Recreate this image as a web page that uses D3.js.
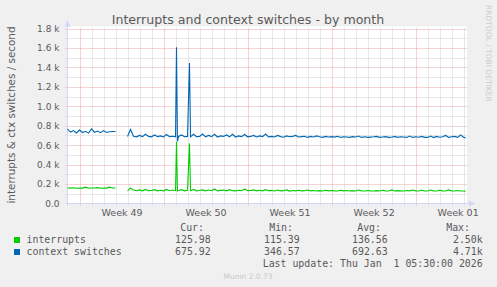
<!DOCTYPE html>
<html><head><meta charset="utf-8">
<script src="https://cdn.jsdelivr.net/npm/d3@7"></script>
<style>
html,body{margin:0;padding:0;background:#f0f0f0;}
svg{display:block;}
</style></head><body>
<svg id="c" width="497" height="287"></svg>
<script>
// ---------- data ----------
const title = "Interrupts and context switches - by month";
const yLabel = "interrupts & ctx switches / second";
const yTickValues = [0, 200, 400, 600, 800, 1000, 1200, 1400, 1600, 1800];
const yTickLabels = ["0.0", "0.2 k", "0.4 k", "0.6 k", "0.8 k", "1.0 k", "1.2 k", "1.4 k", "1.6 k", "1.8 k"];
// days counted from Monday 1 Dec 2025 00:00
const weekCenters = [3.5, 10.5, 17.5, 24.5, 31.5];
const weekLabels = ["Week 49", "Week 50", "Week 51", "Week 52", "Week 01"];
const weekStarts = [0, 7, 14, 21, 28];

const days = [
  -1, -0.75, -0.5, -0.25,
  0, 0.25, 0.5, 0.75,
  1, 1.25, 1.5, 1.75,
  2, 2.25, 2.5, 2.75,
  3,
  3.5,
  4, 4.25, 4.5, 4.75,
  5, 5.25, 5.5, 5.75,
  6, 6.25, 6.5, 6.75,
  7, 7.25, 7.5, 7.75,
  8, 8.08, 8.16, 8.25, 8.5, 8.75,
  9, 9.16, 9.25, 9.5, 9.75,
  10, 10.25, 10.5, 10.75,
  11, 11.25, 11.5, 11.75,
  12, 12.25, 12.5, 12.75,
  13, 13.25, 13.5, 13.75,
  14, 14.25, 14.5, 14.75,
  15, 15.25, 15.5, 15.75,
  16, 16.25, 16.5, 16.75,
  17, 17.25, 17.5, 17.75,
  18, 18.25, 18.5, 18.75,
  19, 19.25, 19.5, 19.75,
  20, 20.25, 20.5, 20.75,
  21, 21.25, 21.5, 21.75,
  22, 22.25, 22.5, 22.75,
  23, 23.25, 23.5, 23.75,
  24, 24.25, 24.5, 24.75,
  25, 25.25, 25.5, 25.75,
  26, 26.25, 26.5, 26.75,
  27, 27.25, 27.5, 27.75,
  28, 28.25, 28.5, 28.75,
  29, 29.25, 29.5, 29.75,
  30, 30.25, 30.5, 30.75,
  31, 31.25, 31.5, 31.75,
  32, 32.17
];

const interrupts = [
  160, 158, 162, 157,
  160, 158, 168, 157,
  160, 159, 163, 157,
  160, 158, 168, 159,
  159,
  null,
  130, 160, 138, 132,
  140, 130, 145, 132,
  134, 142, 130, 136,
  130, 145, 132, 138,
  132, 634, 130, 134, 142, 130,
  135, 617, 132, 145, 130,
  134, 140, 130, 138,
  132, 150, 130, 135,
  138, 130, 142, 132,
  130, 136, 132, 150,
  132, 134, 140, 130,
  136, 130, 142, 132,
  134, 128, 138, 130,
  132, 140, 128, 134,
  130, 136, 130, 132,
  138, 130, 134, 128,
  132, 128, 136, 130,
  134, 130, 128, 136,
  130, 134, 128, 132,
  128, 138, 130, 128,
  134, 130, 128, 132,
  128, 136, 130, 128,
  140, 128, 132, 130,
  128, 134, 130, 138,
  130, 128, 136, 130,
  128, 138, 130, 128,
  136, 130, 128, 140,
  130, 128, 134, 128,
  128, 126
];

const contextSwitches = [
  765, 735, 750, 726,
  755, 730, 742, 724,
  768, 733, 745, 728,
  750, 731, 738, 740,
  740,
  null,
  690, 762, 692, 686,
  700, 688, 712, 690,
  686, 705, 688, 695,
  684, 710, 688, 692,
  685, 1608, 640, 690, 705, 688,
  690, 1444, 686, 712, 688,
  690, 715, 686, 700,
  688, 712, 684, 695,
  690, 705, 686, 712,
  684, 695, 688, 710,
  686, 690, 700, 684,
  695, 688, 715, 686,
  690, 684, 700, 688,
  682, 695, 686, 690,
  700, 684, 688, 692,
  680, 690, 684, 695,
  686, 680, 690, 684,
  688, 683, 692, 680,
  686, 684, 680, 688,
  684, 694, 680, 686,
  680, 683, 686, 690,
  680, 684, 688, 680,
  682, 690, 680, 686,
  684, 680, 694, 680,
  686, 682, 690, 680,
  680, 694, 678, 690,
  682, 686, 700, 680,
  686, 690, 680, 706,
  680, 676
];

const seriesNames = ["interrupts", "context switches"];
const seriesColors = ["#00cc00", "#0066b3"];
const statHeaders = ["Cur:", "Min:", "Avg:", "Max:"];
const statInterrupts = ["125.98", "115.39", "136.56", "2.50k"];
const statContext = ["675.92", "346.57", "692.63", "4.71k"];
const lastUpdate = "Last update: Thu Jan  1 05:30:00 2026";
const footer = "Munin 2.0.73";
const watermark = "RRDTOOL / TOBI OETIKER";

// ---------- layout ----------
const L = 67.5, R = 467, T = 28.5, B = 203.5;
const svg = d3.select("#c");
const fontColor = "#5a5a5a";
const sans = "'DejaVu Sans', sans-serif";
const mono = "'DejaVu Sans Mono', monospace";

const x = d3.scaleLinear().domain([-1, 32.28]).range([L, R]);
const y = d3.scaleLinear().domain([0, 1800]).range([B, T]);

svg.append("rect").attr("width", 497).attr("height", 287).attr("fill", "#f0f0f0");
svg.append("rect").attr("x", L).attr("y", T - 2).attr("width", R - L).attr("height", B - T + 2).attr("fill", "#ffffff");

// minor grid
const minorDays = d3.range(0, 33).filter(d => !weekStarts.includes(d));
svg.append("g").selectAll("line").data(minorDays).join("line")
  .attr("x1", d => Math.round(x(d)) + 0.5).attr("x2", d => Math.round(x(d)) + 0.5)
  .attr("y1", T).attr("y2", B + 3)
  .attr("stroke", "#d0d0d0").attr("stroke-dasharray", "1,1");
const minorY = d3.range(100, 1900, 200);
svg.append("g").selectAll("line").data(minorY).join("line")
  .attr("x1", L - 2).attr("x2", R)
  .attr("y1", d => Math.round(y(d)) + 0.5).attr("y2", d => Math.round(y(d)) + 0.5)
  .attr("stroke", "#d0d0d0").attr("stroke-dasharray", "1,1");
// major grid
svg.append("g").selectAll("line").data(weekStarts).join("line")
  .attr("x1", d => Math.round(x(d)) + 0.5).attr("x2", d => Math.round(x(d)) + 0.5)
  .attr("y1", T).attr("y2", B + 3)
  .attr("stroke", "#e6a8a8").attr("stroke-dasharray", "1,1");
svg.append("g").selectAll("line").data(yTickValues.slice(1)).join("line")
  .attr("x1", L - 2).attr("x2", R)
  .attr("y1", d => Math.round(y(d)) + 0.5).attr("y2", d => Math.round(y(d)) + 0.5)
  .attr("stroke", "#e6a8a8").attr("stroke-dasharray", "1,1");

// axes lines + arrows
const axisColor = "#cfd6f8";
svg.append("line").attr("x1", L).attr("x2", L).attr("y1", B + 2).attr("y2", T - 6)
  .attr("stroke", axisColor);
svg.append("path").attr("d", `M${L - 3},${T - 2} L${L},${T - 8} L${L + 3},${T - 2} Z`).attr("fill", axisColor);
svg.append("line").attr("x1", L - 2).attr("x2", R + 6).attr("y1", B).attr("y2", B)
  .attr("stroke", axisColor);
svg.append("path").attr("d", `M${R + 2},${B - 3} L${R + 8},${B} L${R + 2},${B + 3} Z`).attr("fill", axisColor);

// axis labels through d3 axes
const yAxis = d3.axisLeft(y).tickValues(yTickValues)
  .tickFormat((d, i) => yTickLabels[i]).tickSize(0).tickPadding(8);
const gy = svg.append("g").attr("transform", `translate(${L},0)`).call(yAxis);
gy.select(".domain").remove();
gy.selectAll("text").attr("font-family", sans).attr("font-size", 9).attr("fill", fontColor);

const xAxis = d3.axisBottom(x).tickValues(weekCenters)
  .tickFormat((d, i) => weekLabels[i]).tickSize(0).tickPadding(6);
const gx = svg.append("g").attr("transform", `translate(0,${B})`).call(xAxis);
gx.select(".domain").remove();
gx.selectAll("text").attr("font-family", sans).attr("font-size", 9.5).attr("fill", fontColor);

// series
const line = d3.line().defined(d => d.v !== null).x(d => x(d.t)).y(d => y(d.v));
[interrupts, contextSwitches].forEach((vals, i) => {
  const pts = days.map((t, j) => ({ t: t, v: vals[j] }));
  svg.append("path").datum(pts).attr("d", line)
    .attr("fill", "none").attr("stroke", seriesColors[i]).attr("stroke-width", 1.1);
});

// title
svg.append("text").attr("x", 248).attr("y", 23.5).attr("text-anchor", "middle")
  .attr("font-family", sans).attr("font-size", 12.6).attr("fill", fontColor).text(title);
// y label
svg.append("text").attr("transform", "translate(15,115) rotate(-90)").attr("text-anchor", "middle")
  .attr("font-family", sans).attr("font-size", 10.4).attr("fill", fontColor).text(yLabel);
// watermark
svg.append("text").attr("transform", "translate(485.5,5) rotate(90)").attr("text-anchor", "start")
  .attr("font-family", sans).attr("font-size", 7.5).attr("fill", "#cccccc").text(watermark);

// legend
const statX = [204, 293, 381, 470];
const valX = [210.7, 299.7, 387.7, 482.7];
const lg = svg.append("g").attr("font-family", mono).attr("font-size", 9.9).attr("fill", fontColor);
statHeaders.forEach((h, i) => lg.append("text").attr("x", statX[i]).attr("y", 231).attr("text-anchor", "end").text(h));
[statInterrupts, statContext].forEach((row, r) => {
  const yy = 243 + r * 12;
  svg.append("rect").attr("x", 14).attr("y", yy - 6).attr("width", 6).attr("height", 6).attr("fill", seriesColors[r]);
  lg.append("text").attr("x", 26.5).attr("y", yy).text(seriesNames[r]);
  row.forEach((v, i) => lg.append("text").attr("x", valX[i]).attr("y", yy).attr("text-anchor", "end").text(v));
});
lg.append("text").attr("x", 482.7).attr("y", 267).attr("text-anchor", "end")
  .style("white-space", "pre").text(lastUpdate);
svg.append("text").attr("x", 248).attr("y", 279).attr("text-anchor", "middle")
  .attr("font-family", sans).attr("font-size", 7.5).attr("fill", "#c8c8c8").text(footer);
</script>
</body></html>
